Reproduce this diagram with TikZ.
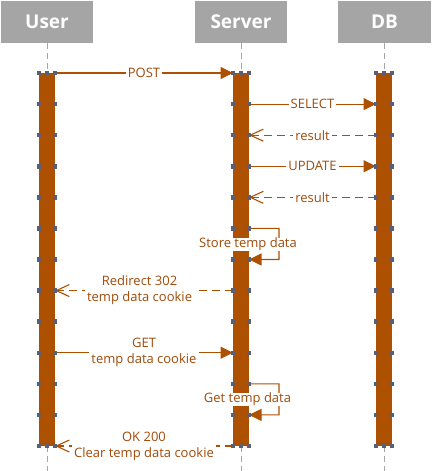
\documentclass[tikz,border=0pt]{standalone}
\usepackage{fontspec}
\setmainfont{Open Sans}
\usetikzlibrary{arrows.meta}
\definecolor{brn}{RGB}{173,80,0}
\definecolor{txtc}{RGB}{160,75,10}
\definecolor{hdr}{RGB}{165,165,165}
\definecolor{dotc}{RGB}{90,95,115}
\definecolor{life}{RGB}{165,165,165}
\begin{document}
\begin{tikzpicture}[x=1pt,y=-1pt,
 hdrbox/.style={fill=hdr, draw=none, minimum width=92pt, minimum height=42pt, text=white, font=\bfseries\fontsize{19}{19}\selectfont, inner sep=0pt},
 bar/.style={fill=brn, draw=none, minimum width=16pt, minimum height=373pt, inner sep=0pt},
 lifeline/.style={draw=life, dash pattern=on 6pt off 4pt, line width=0.8pt},
 msg/.style={draw=brn, line width=1.1pt, -{Triangle[length=12.5pt,width=12pt]}},
 reply/.style={draw=brn, line width=1.1pt, dash pattern=on 8pt off 5pt, -{Straight Barb[length=13pt,width=12pt]}},
 lbl/.style={fill=white, text=txtc, font=\fontsize{13}{16}\selectfont, inner xsep=2pt, inner ysep=0pt, align=center},
 dotm/.style={fill=dotc, minimum size=4.5pt, inner sep=0pt, draw=none}
]
\useasboundingbox (0,0) rectangle (431,471);
% headers
\node[hdrbox] (user) at (47,22) {User};
\node[hdrbox] (server) at (241,22) {Server};
\node[hdrbox, minimum width=93pt] (db) at (384.5,22) {DB};
% bars
\node[bar] (ubar) at (47,259.5) {};
\node[bar] (sbar) at (241,259.5) {};
\node[bar] (dbar) at (384,259.5) {};
% lifelines
\coordinate (uend) at (47,471);
\coordinate (send) at (241,471);
\coordinate (dend) at (384,471);
\coordinate (utop) at (47,43);
\coordinate (stop) at (241,43);
\coordinate (dtop) at (384,43);
\draw[lifeline] (utop) -- (ubar.north);
\draw[lifeline] (stop) -- (sbar.north);
\draw[lifeline] (dtop) -- (dbar.north);
\draw[lifeline] (ubar.south) -- (uend);
\draw[lifeline] (sbar.south) -- (send);
\draw[lifeline] (dbar.south) -- (dend);
% row coordinates
\foreach \i in {0,...,12}{
  \pgfmathsetmacro{\yy}{73+\i*31.0833}
  \coordinate (uL\i) at (39,\yy);
  \coordinate (uR\i) at (55,\yy);
  \coordinate (sL\i) at (233,\yy);
  \coordinate (sR\i) at (249,\yy);
  \coordinate (dL\i) at (376,\yy);
  \coordinate (dR\i) at (392,\yy);
}
\coordinate (la) at (279,228.4);
\coordinate (lb) at (279,259.5);
\coordinate (lc) at (279,383.8);
\coordinate (ld) at (279,414.9);
% messages
\draw[msg] (uR0) -- node[lbl] (postl) {POST} (sL0);
\draw[msg] (sR1) -- node[lbl] (sell) {SELECT} (dL1);
\draw[reply] (dL2) -- node[lbl] (res1) {result} (sR2);
\draw[msg] (sR3) -- node[lbl] (updl) {UPDATE} (dL3);
\draw[reply] (dL4) -- node[lbl] (res2) {result} (sR4);
\draw[msg] (sR5) -- (la) -- (lb) -- (sR6);
\node[lbl] (storel) at (248,244) {Store temp data};
\draw[reply] (sL7) -- node[lbl, pos=0.525] (redl) {Redirect 302\\temp data cookie} (uR7);
\draw[msg] (uR9) -- node[lbl] (getl) {GET\\temp data cookie} (sL9);
\draw[msg] (sR10) -- (lc) -- (ld) -- (sR11);
\node[lbl] (gettl) at (247.5,399.4) {Get temp data};
\draw[reply] (sL12) -- node[lbl] (okl) {OK 200\\Clear temp data cookie} (uR12);
% dots
\foreach \i in {0,...,12}{
  \foreach \b in {uL,uR,sL,sR,dL,dR}{
    \node[dotm] at (\b\i) {};
  }
}
\foreach \x in {47,241,384}{
  \node[dotm] at (\x,73) {};
  \node[dotm] at (\x,446) {};
}
\end{tikzpicture}
\end{document}
